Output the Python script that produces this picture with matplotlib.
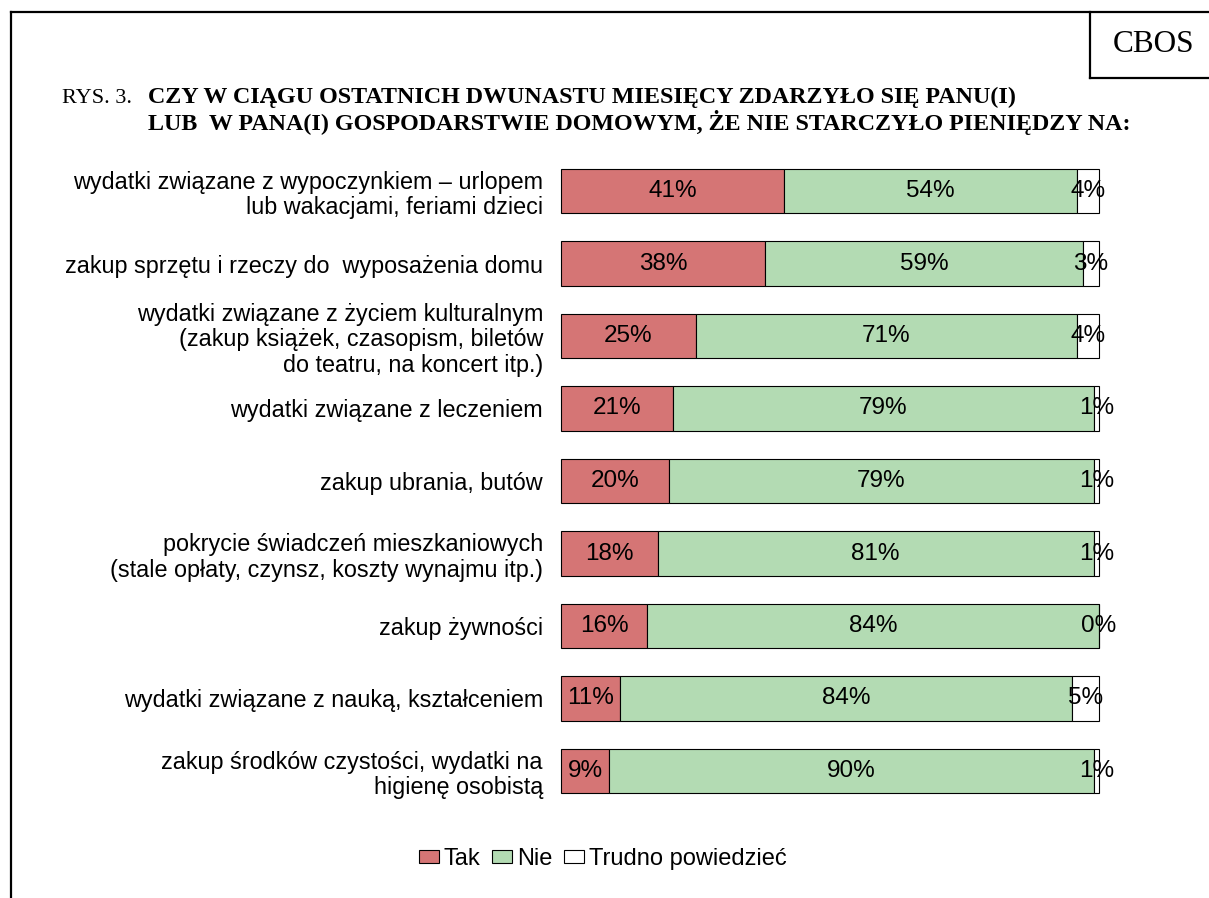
import numpy as np
from matplotlib import pyplot as plt
from matplotlib.lines import Line2D
from matplotlib.patches import Patch

categories = [
    "wydatki związane z wypoczynkiem – urlopem\nlub wakacjami, feriami dzieci",
    "zakup sprzętu i rzeczy do  wyposażenia domu",
    "wydatki związane z życiem kulturalnym\n(zakup książek, czasopism, biletów\ndo teatru, na koncert itp.)",
    "wydatki związane z leczeniem",
    "zakup ubrania, butów",
    "pokrycie świadczeń mieszkaniowych\n(stale opłaty, czynsz, koszty wynajmu itp.)",
    "zakup żywności",
    "wydatki związane z nauką, kształceniem",
    "zakup środków czystości, wydatki na\nhigienę osobistą",
]
tak = [41, 38, 25, 21, 20, 18, 16, 11, 9]
nie = [54, 59, 71, 79, 79, 81, 84, 84, 90]
trudno = [4, 3, 4, 1, 1, 1, 0, 5, 1]
series_names = ["Tak", "Nie", "Trudno powiedzieć"]
colors = ["#D57575", "#B3DBB3", "#FFFFFF"]

W, H = 1209, 898
fig = plt.figure(figsize=(W / 100, H / 100), dpi=100)
plt.rcParams["font.family"] = ["Liberation Sans", "DejaVu Sans"]


def fx(px):
    return px / W


def fy(py):
    return 1 - py / H


# frame lines and CBOS box
for xs, ys in [
    ([11, 11], [12, H]),
    ([11, W], [12, 12]),
    ([1090, 1090], [12, 78]),
    ([1090, W], [78, 78]),
]:
    fig.add_artist(
        Line2D([fx(x) for x in xs], [fy(y) for y in ys], color="black", lw=1.6,
               transform=fig.transFigure)
    )
fig.text(fx(1154), fy(44), "CBOS", family="Liberation Serif", fontsize=22.5,
         ha="center", va="center")

serif = "Liberation Serif"
fig.text(fx(62), fy(103), "RYS. 3.", family=serif, fontsize=16, va="baseline")
fig.text(fx(148), fy(103), "CZY W CIĄGU OSTATNICH DWUNASTU MIESIĘCY ZDARZYŁO SIĘ PANU(I)",
         family=serif, fontsize=17.3, fontweight="bold", va="baseline")
fig.text(fx(148), fy(130),
         "LUB  W PANA(I) GOSPODARSTWIE DOMOWYM, ŻE NIE STARCZYŁO PIENIĘDZY NA:",
         family=serif, fontsize=17.3, fontweight="bold", va="baseline")

# 100% stacked bars
data = np.array([tak, nie, trudno], dtype=float)
shares = data / data.sum(axis=0) * 100

ax = fig.add_axes([fx(561), fy(807.25), fx(1099) - fx(561), fy(154.75) - fy(807.25)])
y = np.arange(len(categories))
left = np.zeros(len(categories))
for vals, sh, col in zip(data, shares, colors):
    ax.barh(y, sh, left=left, height=0.607, color=col, edgecolor="black",
            linewidth=0.8, clip_on=False)
    for yi, v, l, s in zip(y, vals, left, sh):
        ax.text(l + s / 2, yi, f"{int(v)}%", ha="center", va="center", fontsize=17.5)
    left += sh

ax.set_xlim(0, 100)
ax.set_ylim(len(categories) - 0.5, -0.5)
ax.set_yticks(y)
ax.set_yticklabels(categories, fontsize=16.8, linespacing=1.15)
ax.tick_params(axis="y", length=0, pad=13)
ax.set_xticks([])
for s in ax.spines.values():
    s.set_visible(False)

handles = [Patch(facecolor=c, edgecolor="black", linewidth=0.8) for c in colors]
fig.legend(handles, series_names, loc="center", bbox_to_anchor=(fx(603), fy(859)),
           ncol=3, frameon=False, fontsize=17, handlelength=0.85, handleheight=0.5,
           handletextpad=0.2, columnspacing=0.5)

fig.savefig("out.png", dpi=100)
